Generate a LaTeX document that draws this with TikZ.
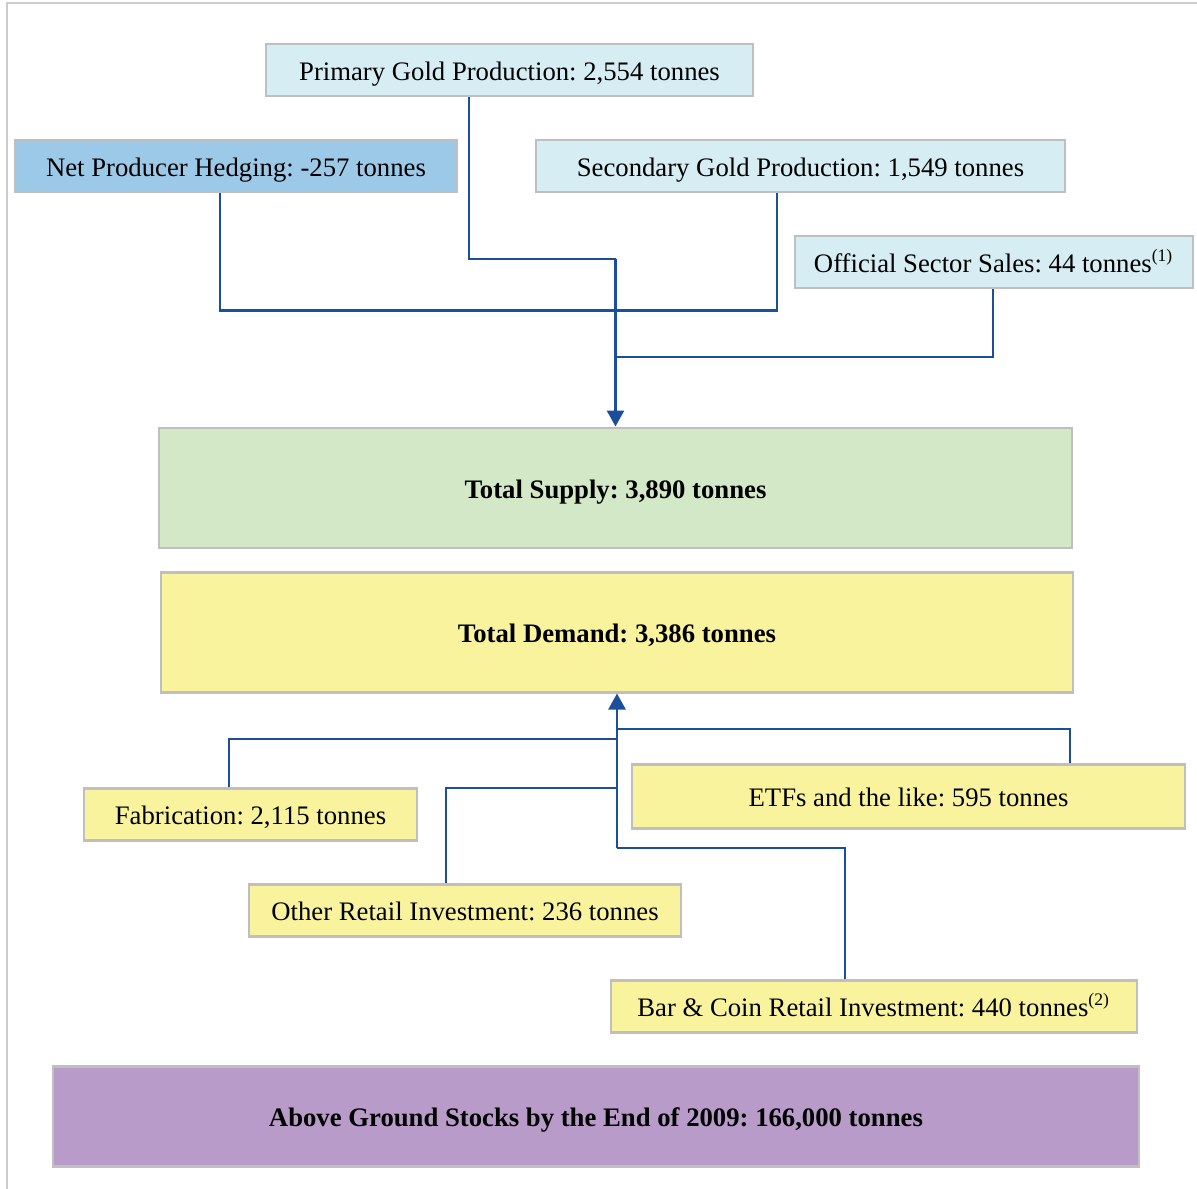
\documentclass[tikz,border=0pt]{standalone}
\usepackage{fontspec}
\setmainfont{Liberation Serif}
\usepackage{tikz}
\usetikzlibrary{arrows.meta}

\definecolor{boxgrey}{HTML}{BFBFBF}
\definecolor{framegrey}{HTML}{CCCCCC}
\definecolor{linkblue}{HTML}{1B4E9B}
\definecolor{supcyan}{HTML}{D5EDF3}
\definecolor{hedgeblue}{HTML}{9DC9E9}
\definecolor{supgreen}{HTML}{D3E8C6}
\definecolor{demyellow}{HTML}{FAF39E}
\definecolor{stockpurple}{HTML}{B89BC8}

\begin{document}
\frenchspacing
\begin{tikzpicture}[
    font=\fontsize{7.6}{9}\selectfont,
    gbox/.style={draw=boxgrey, line width=0.85pt, rectangle, inner sep=0pt,
        minimum height=0.52cm, text height=0.7em, text depth=0.11em},
    link/.style={draw=linkblue, line width=0.75pt},
    tip/.style={-{Triangle[width=0.17cm,length=0.16cm]}},
]
    \useasboundingbox (0,0) rectangle (11.97,-11.89);
    \draw[framegrey, line width=0.6pt] (0.07,-11.89) -- (0.07,-0.03) -- (11.97,-0.03);

    \node[gbox, fill=supcyan, minimum width=4.87cm] (prim) at (5.095,-0.70) {Primary Gold Production: 2,554 tonnes};
    \node[gbox, fill=hedgeblue, minimum width=4.42cm] (hedge) at (2.36,-1.66) {Net Producer Hedging: -257 tonnes};
    \node[gbox, fill=supcyan, minimum width=5.29cm] (sec) at (8.005,-1.66) {Secondary Gold Production: 1,549 tonnes};
    \node[gbox, fill=supcyan, minimum width=3.98cm] (off) at (9.94,-2.62) {Official Sector Sales: 44 tonnes{\scriptsize\textsuperscript{(1)}}};

    \node[gbox, fill=supgreen, minimum width=9.13cm, minimum height=1.20cm] (supply) at (6.155,-4.88) {\bfseries Total Supply: 3,890 tonnes};
    \node[gbox, fill=demyellow, minimum width=9.12cm, minimum height=1.20cm] (demand) at (6.17,-6.32) {\bfseries Total Demand: 3,386 tonnes};

    \node[gbox, fill=demyellow, minimum width=3.33cm] (fab) at (2.505,-8.14) {Fabrication: 2,115 tonnes};
    \node[gbox, fill=demyellow, minimum width=5.53cm, minimum height=0.64cm] (etf) at (9.085,-7.96) {ETFs and the like: 595 tonnes};
    \node[gbox, fill=demyellow, minimum width=4.32cm] (oth) at (4.65,-9.10) {Other Retail Investment: 236 tonnes};
    \node[gbox, fill=demyellow, minimum width=5.26cm] (bar) at (8.74,-10.06) {Bar \& Coin Retail Investment: 440 tonnes{\scriptsize\textsuperscript{(2)}}};

    \node[gbox, fill=stockpurple, minimum width=10.86cm, minimum height=1.00cm] (stock) at (5.96,-11.16) {\bfseries Above Ground Stocks by the End of 2009: 166,000 tonnes};

    \coordinate (top) at (6.155,-2.59);
    \coordinate (offj) at (6.155,-3.57);
    \coordinate (bot) at (6.17,-8.48);

    \draw[link] (prim.south -| 4.69,0) |- (top);
    \draw[link] (hedge.south -| 2.20,0) -- ++(0,-1.17) -| (sec.south -| 7.77,0);
    \draw[link] (off.south -| 9.93,0) |- (offj);
    \draw[link, tip] (top) -- (supply.north);

    \draw[link] (fab.north -| 2.29,0) |- (6.17,-7.39);
    \draw[link] (etf.north -| 10.70,0) |- (6.17,-7.29);
    \draw[link] (oth.north -| 4.46,0) |- (6.17,-7.88);
    \draw[link] (bar.north -| 8.45,0) |- (bot);
    \draw[link, tip] (bot) -- (demand.south);
\end{tikzpicture}
\end{document}
